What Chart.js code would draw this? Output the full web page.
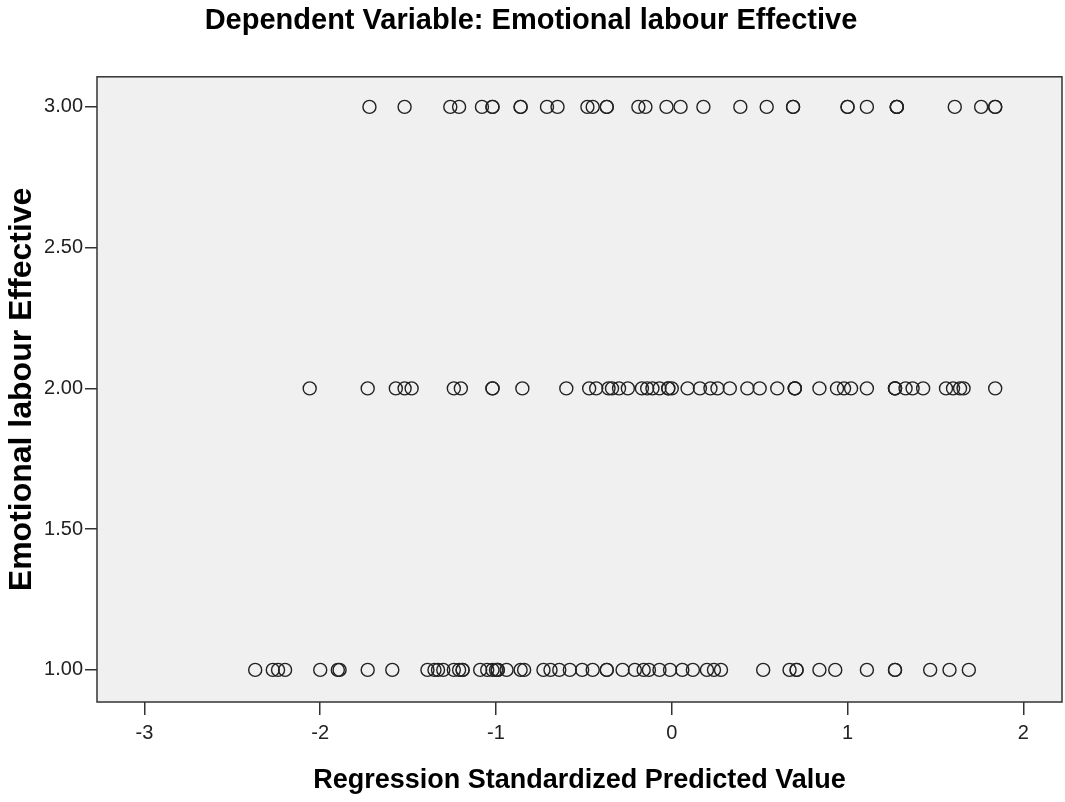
<!DOCTYPE html>
<html>
<head>
<meta charset="utf-8">
<script src="https://cdn.jsdelivr.net/npm/chart.js@4/dist/chart.umd.min.js"></script>
<style>
  html, body { margin: 0; padding: 0; background: #fff; overflow: hidden; }
  #wrap { width: 1065px; height: 802px; }
</style>
</head>
<body>
<div id="wrap"><canvas id="scatter"></canvas></div>
<script>
// standardized predicted values, grouped by observed outcome
const predictedAt3 = [-1.72,-1.52,-1.26,-1.21,-1.08,-1.02,-1.02,-0.86,-0.86,-0.71,-0.65,-0.48,-0.45,-0.37,-0.37,
  -0.19,-0.15,-0.03,0.05,0.18,0.39,0.54,0.69,0.69,1.00,1.00,1.11,1.28,1.28,1.28,1.61,1.76,1.84,1.84];
const predictedAt2 = [-2.06,-1.73,-1.57,-1.52,-1.48,-1.24,-1.20,-1.02,-1.02,-0.85,-0.60,-0.47,-0.43,-0.36,-0.34,
  -0.30,-0.25,-0.17,-0.14,-0.11,-0.07,-0.02,-0.02,0.00,0.09,0.16,0.22,0.26,0.33,0.43,0.50,0.60,0.70,0.70,0.70,
  0.84,0.94,0.98,1.02,1.11,1.27,1.27,1.27,1.33,1.37,1.43,1.56,1.60,1.64,1.66,1.84];
const predictedAt1 = [-2.37,-2.27,-2.24,-2.20,-2.00,-1.90,-1.89,-1.73,-1.59,-1.39,-1.35,-1.33,-1.30,-1.24,-1.21,
  -1.19,-1.19,-1.09,-1.05,-1.02,-1.00,-0.99,-0.99,-0.94,-0.86,-0.84,-0.73,-0.69,-0.64,-0.58,-0.51,-0.45,-0.37,-0.37,
  -0.28,-0.21,-0.16,-0.13,-0.07,-0.01,0.06,0.12,0.20,0.24,0.28,0.52,0.67,0.71,0.71,0.84,0.93,1.11,1.27,1.27,
  1.47,1.58,1.69];
const outcomeLevels = [1, 2, 3];
const xTicks = [-3, -2, -1, 0, 1, 2];
const yTicks = [1.0, 1.5, 2.0, 2.5, 3.0];

const groups = [predictedAt1, predictedAt2, predictedAt3];
const points = [];
groups.forEach((vals, i) => vals.forEach(v => points.push({ x: v, y: outcomeLevels[i] })));

const sans = "'Liberation Sans', Arial, sans-serif";

const plotFrame = {
  id: 'plotFrame',
  beforeDatasetsDraw(chart) {
    const { ctx, chartArea: a } = chart;
    ctx.save();
    ctx.fillStyle = '#f0f0f0';
    ctx.fillRect(a.left, a.top, a.right - a.left, a.bottom - a.top);
    ctx.restore();
  },
  afterDraw(chart) {
    const { ctx, chartArea: a } = chart;
    ctx.save();
    ctx.strokeStyle = '#333';
    ctx.lineWidth = 1.5;
    ctx.strokeRect(a.left, a.top, a.right - a.left, a.bottom - a.top);
    ctx.restore();
  }
};

new Chart(document.getElementById('scatter'), {
  type: 'scatter',
  data: {
    datasets: [{
      data: points,
      pointRadius: 6.5,
      pointHoverRadius: 6.5,
      pointBorderWidth: 1.4,
      borderColor: '#222',
      backgroundColor: 'rgba(0,0,0,0)'
    }]
  },
  options: {
    responsive: true,
    maintainAspectRatio: false,
    animation: false,
    layout: { autoPadding: false, padding: { left: 0, right: 3, top: 0, bottom: 0 } },
    plugins: {
      legend: { display: false },
      tooltip: { enabled: false },
      title: {
        display: true,
        text: 'Dependent Variable: Emotional labour Effective',
        color: '#000',
        font: { family: sans, size: 29, weight: 'bold' },
        padding: { top: 4, bottom: 38 }
      }
    },
    scales: {
      x: {
        type: 'linear',
        min: -3.27,
        max: 2.22,
        afterBuildTicks: s => { s.ticks = xTicks.map(v => ({ value: v })); },
        afterFit: s => { s.height = 100; },
        grid: { drawOnChartArea: false, drawTicks: true, tickLength: 13, color: '#333', lineWidth: 1.5 },
        border: { display: false },
        ticks: { color: '#222', padding: 6, font: { family: sans, size: 20 }, callback: v => String(v) },
        title: {
          display: true,
          text: 'Regression Standardized Predicted Value',
          color: '#000',
          font: { family: sans, size: 27, weight: 'bold' },
          padding: { top: 0, bottom: 5 }
        }
      },
      y: {
        type: 'linear',
        min: 0.886,
        max: 3.107,
        afterBuildTicks: s => { s.ticks = yTicks.map(v => ({ value: v })); },
        afterFit: s => { s.width = 97; },
        grid: { drawOnChartArea: false, drawTicks: true, tickLength: 12, color: '#333', lineWidth: 1.5 },
        border: { display: false },
        ticks: { color: '#222', padding: 2, font: { family: sans, size: 20 }, callback: v => v.toFixed(2) },
        title: {
          display: true,
          text: 'Emotional labour Effective',
          color: '#000',
          font: { family: sans, size: 32, weight: 'bold' },
          padding: { top: 3, bottom: 0 }
        }
      }
    }
  },
  plugins: [plotFrame]
});
</script>
</body>
</html>
